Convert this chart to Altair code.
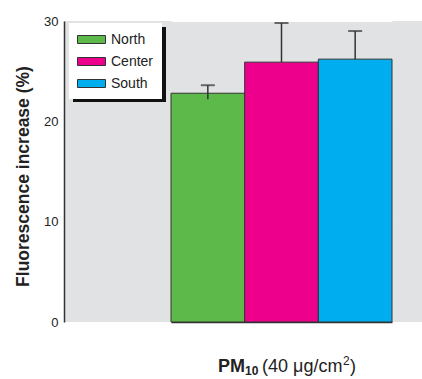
import altair as alt
import pandas as pd

regions = ["North", "Center", "South"]
values = [22.8, 25.9, 26.2]
err_hi = [23.6, 29.8, 29.0]
err_lo = [22.2, 25.9, 26.2]
colors = ["#5dba4a", "#ec008c", "#00aeef"]
y_ticks = [0, 10, 20, 30]

df = pd.DataFrame({"region": regions, "value": values, "hi": err_hi, "lo": err_lo})

FONT = "Liberation Sans"

xscale = alt.Scale(domain=regions, range=[107, 328], paddingInner=0, paddingOuter=0)
yscale = alt.Scale(domain=[0, 30], nice=False)

x_enc = alt.X("region:N", sort=regions, scale=xscale,
              axis=alt.Axis(labels=False, ticks=False, title=None, domain=True,
                            domainColor="#333", domainWidth=1.5, grid=False))

bars = alt.Chart(df).mark_bar(stroke="#333", strokeWidth=1).encode(
    x=x_enc,
    y=alt.Y("value:Q", scale=yscale,
            axis=alt.Axis(values=y_ticks, ticks=False, labelPadding=6, labelFontSize=13,
                          labelFont=FONT, labelColor="#222", gridColor="white", gridWidth=1,
                          domainColor="#333", domainWidth=1.5,
                          title="Fluorescence increase (%)", titleFont=FONT,
                          titleFontSize=17.5, titleFontWeight="bold", titleColor="#222",
                          titlePadding=11, titleY=155)),
    color=alt.Color("region:N", sort=regions,
                    scale=alt.Scale(domain=regions, range=colors),
                    legend=alt.Legend(orient="none", legendX=5, legendY=2, title=None,
                                      fillColor="white", padding=8,
                                      symbolType="M-1,-0.5H2.5V0.5H-1Z", symbolSize=256,
                                      symbolStrokeColor="#333", symbolStrokeWidth=1,
                                      symbolOpacity=1,
                                      labelFont=FONT, labelFontSize=14, labelColor="#222",
                                      labelOffset=17, rowPadding=6)),
)

rules = alt.Chart(df).mark_rule(color="#333", strokeWidth=1.5).encode(
    x=alt.X("region:N", sort=regions, scale=xscale),
    y=alt.Y("lo:Q", scale=yscale),
    y2="hi:Q",
)
caps = alt.Chart(df).mark_tick(color="#333", thickness=2, size=14).encode(
    x=alt.X("region:N", sort=regions, scale=xscale),
    y=alt.Y("hi:Q", scale=yscale),
)

shadow = alt.Chart(df).mark_rect(color="#111").encode(
    x=alt.value(9), x2=alt.value(102), y=alt.value(6), y2=alt.value(81)
)

title_df = pd.DataFrame({"t": ["x"]})
def txt(s, size, x, y, bold=False):
    kw = dict(text=s, font=FONT, fontSize=size, align="left", baseline="alphabetic", color="#222")
    if bold:
        kw["fontWeight"] = "bold"
    return alt.Chart(title_df).mark_text(**kw).encode(x=alt.value(x), y=alt.value(y))

t1 = txt("PM", 18, 154, 351, bold=True)
t2 = txt("10", 12, 181, 354, bold=True)
t3 = txt("(40 μg/cm", 18, 198, 351)
t4 = txt("2", 12, 279, 344)
t5 = txt(")", 18, 286, 351)

chart = alt.layer(shadow, bars, rules, caps, t1, t2, t3, t4, t5).properties(
    width=358, height=301,
    padding={"left": 64, "top": 21, "right": 0, "bottom": 57},
    autosize=alt.AutoSizeParams(type="none"),
    background="white",
).configure_view(fill="#e1e2e4", strokeWidth=0)

chart.save("out.html", embed_options={"renderer": "svg", "actions": False})
